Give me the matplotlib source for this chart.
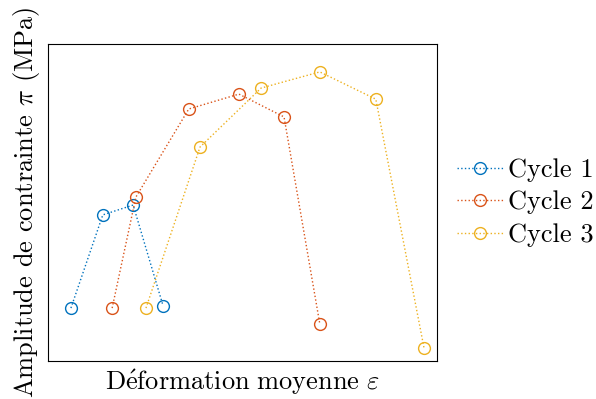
import matplotlib
matplotlib.use("Agg")
import matplotlib.pyplot as plt

# valeurs (unites arbitraires, axes sans graduations)
cycle1_x = [5.9, 14.1, 21.9, 29.6]
cycle1_y = [16.7, 46.1, 49.2, 17.4]
cycle2_x = [16.5, 22.6, 36.2, 49.1, 60.7, 69.9]
cycle2_y = [16.7, 51.7, 79.5, 84.2, 77.0, 11.7]
cycle3_x = [25.2, 39.1, 54.8, 69.9, 84.3, 96.7]
cycle3_y = [16.7, 67.5, 86.1, 91.2, 82.6, 4.1]
labels = ["Cycle 1", "Cycle 2", "Cycle 3"]
colors = ["#0072BD", "#D95319", "#EDB120"]

plt.rcParams.update({
    "font.family": ["cmr10", "DejaVu Serif"],
    "mathtext.fontset": "cm",
    "axes.formatter.use_mathtext": True,
    "font.size": 19,
})

fig = plt.figure(figsize=(5.96, 3.99), dpi=100)
ax = fig.add_axes([0.0805, 0.0952, 0.6525, 0.7945])

series = [(cycle1_x, cycle1_y), (cycle2_x, cycle2_y), (cycle3_x, cycle3_y)]
for (x, y), lab, c in zip(series, labels, colors):
    ax.plot(x, y, ls=":", lw=1.0, color=c, marker="o", ms=8.5,
            mfc="none", mec=c, mew=1.0, label=lab)

ax.set_xlim(0, 100)
ax.set_ylim(0, 100)
ax.set_xticks([])
ax.set_yticks([])
ax.set_xlabel(r"$\mathrm{D\acute{e}formation\ moyenne}\ \varepsilon$", labelpad=5)
ax.set_ylabel(r"Amplitude de contrainte $\pi$ (MPa)", labelpad=4)

ax.legend(loc="center left", bbox_to_anchor=(1.0, 0.5), frameon=False,
          handlelength=1.75, handletextpad=0.2, borderaxespad=0.35,
          borderpad=0.4, labelspacing=0.33)

fig.savefig("out.png", dpi=100)
